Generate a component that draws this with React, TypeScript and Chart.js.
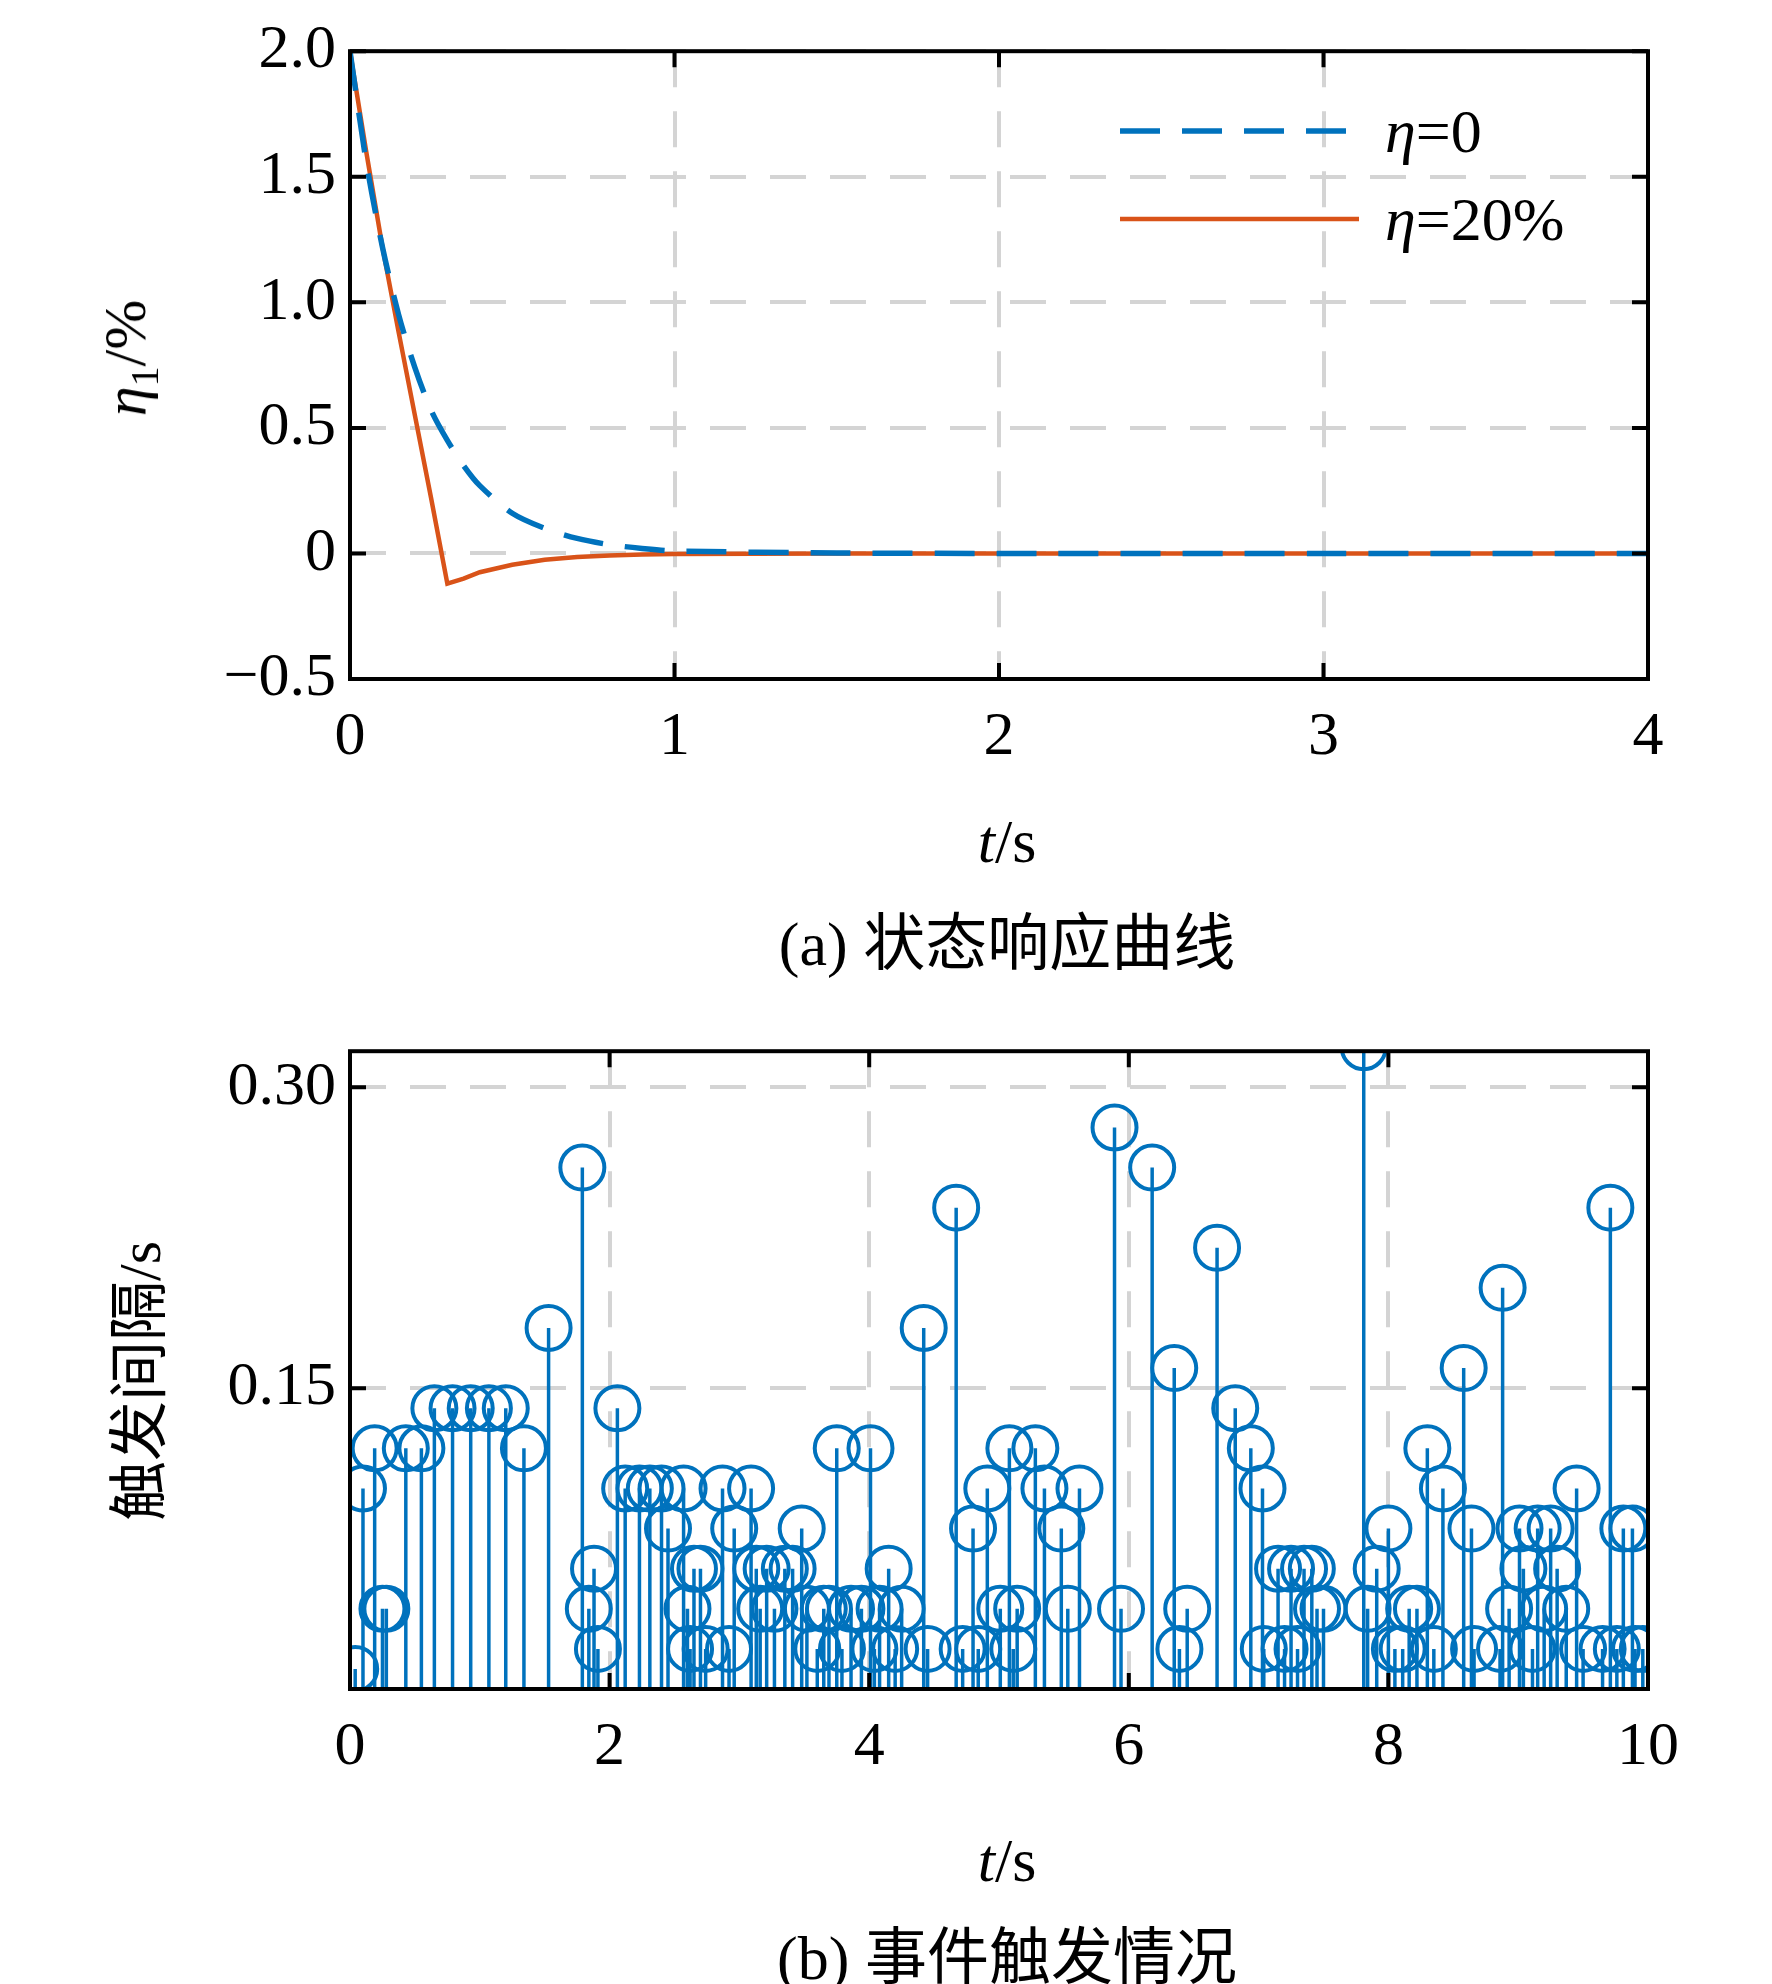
import React, { useEffect, useRef } from "react";
import { Chart, registerables } from "chart.js";
Chart.register(...registerables);

const tA = [0, 0.05, 0.1, 0.15, 0.2, 0.25, 0.3, 0.35, 0.4, 0.5, 0.6, 0.7, 0.8, 0.9, 1.0, 1.5, 2, 3, 4];
const eta0 = [2.0, 1.56, 1.22, 0.95, 0.74, 0.57, 0.45, 0.35, 0.27, 0.16, 0.1, 0.06, 0.035, 0.02, 0.01, 0.002, 0, 0, 0];
const tB = [0, 0.05, 0.1, 0.15, 0.2, 0.25, 0.3, 0.35, 0.4, 0.5, 0.6, 0.7, 0.8, 0.9, 1.0, 1.5, 2, 3, 4];
const eta20 = [2.0, 1.6, 1.22, 0.88, 0.55, 0.22, -0.12, -0.1, -0.075, -0.045, -0.025, -0.014, -0.008, -0.004, -0.002, 0, 0, 0, 0];

const evT = [0.04, 0.1, 0.19, 0.25, 0.28, 0.43, 0.55, 0.65, 0.79, 0.93, 1.07, 1.2, 1.34, 1.53, 1.79, 1.84, 1.88, 1.91, 2.06, 2.12, 2.23, 2.31, 2.4, 2.45, 2.57, 2.6, 2.62, 2.65, 2.7, 2.74, 2.87, 2.92, 2.96, 3.09, 3.13, 3.16, 3.21, 3.27, 3.35, 3.41, 3.48, 3.52, 3.6, 3.65, 3.69, 3.75, 3.79, 3.86, 3.94, 4.01, 4.04, 4.08, 4.15, 4.2, 4.25, 4.42, 4.45, 4.67, 4.72, 4.8, 4.84, 4.91, 5.01, 5.08, 5.11, 5.14, 5.28, 5.35, 5.48, 5.53, 5.62, 5.89, 5.94, 6.18, 6.35, 6.39, 6.45, 6.68, 6.82, 6.94, 7.03, 7.04, 7.15, 7.2, 7.25, 7.3, 7.35, 7.41, 7.45, 7.5, 7.81, 7.84, 7.91, 8.0, 8.05, 8.11, 8.16, 8.22, 8.3, 8.35, 8.42, 8.58, 8.64, 8.66, 8.86, 8.88, 8.93, 9.01, 9.04, 9.11, 9.15, 9.2, 9.25, 9.3, 9.37, 9.45, 9.5, 9.65, 9.71, 9.76, 9.81, 9.88, 9.9, 9.96];
const evV = [0.01, 0.10, 0.12, 0.04, 0.04, 0.12, 0.12, 0.14, 0.14, 0.14, 0.14, 0.14, 0.12, 0.18, 0.26, 0.04, 0.06, 0.02, 0.14, 0.10, 0.10, 0.10, 0.10, 0.08, 0.10, 0.04, 0.02, 0.06, 0.06, 0.02, 0.10, 0.02, 0.08, 0.10, 0.06, 0.04, 0.06, 0.04, 0.06, 0.06, 0.08, 0.04, 0.02, 0.04, 0.04, 0.12, 0.02, 0.04, 0.04, 0.12, 0.02, 0.04, 0.06, 0.02, 0.04, 0.18, 0.02, 0.24, 0.02, 0.08, 0.02, 0.10, 0.04, 0.12, 0.02, 0.04, 0.12, 0.10, 0.08, 0.04, 0.10, 0.28, 0.04, 0.26, 0.16, 0.02, 0.04, 0.22, 0.14, 0.12, 0.10, 0.02, 0.06, 0.02, 0.06, 0.02, 0.06, 0.06, 0.04, 0.04, 0.32, 0.04, 0.06, 0.08, 0.02, 0.02, 0.04, 0.04, 0.12, 0.02, 0.10, 0.16, 0.08, 0.02, 0.02, 0.20, 0.04, 0.08, 0.06, 0.02, 0.08, 0.04, 0.08, 0.06, 0.04, 0.10, 0.02, 0.02, 0.24, 0.02, 0.08, 0.08, 0.02, 0.02];

const FONT = "'Liberation Serif', 'Times New Roman', serif";
const BLUE = "#0072BD";
const RED = "#D95319";

const framePlugin = {
  id: "frame",
  afterDraw(chart: any) {
    const { ctx, chartArea: a, scales } = chart;
    ctx.save();
    ctx.strokeStyle = "#000";
    ctx.lineWidth = 4;
    const L = 16;
    ctx.beginPath();
    scales.x.ticks.forEach((t: any) => {
      const px = scales.x.getPixelForValue(t.value);
      ctx.moveTo(px, a.bottom); ctx.lineTo(px, a.bottom - L);
      ctx.moveTo(px, a.top); ctx.lineTo(px, a.top + L);
    });
    scales.y.ticks.forEach((t: any) => {
      const py = scales.y.getPixelForValue(t.value);
      ctx.moveTo(a.left, py); ctx.lineTo(a.left + L, py);
      ctx.moveTo(a.right, py); ctx.lineTo(a.right - L, py);
    });
    ctx.stroke();
    ctx.strokeRect(a.left, a.top, a.right - a.left, a.bottom - a.top);
    ctx.restore();
  },
};

const stemPlugin = {
  id: "stems",
  beforeDatasetsDraw(chart: any) {
    const { ctx, chartArea: a, scales } = chart;
    ctx.save();
    ctx.beginPath();
    ctx.rect(a.left, a.top, a.right - a.left, a.bottom - a.top);
    ctx.clip();
    ctx.strokeStyle = BLUE;
    ctx.lineWidth = 3.5;
    ctx.beginPath();
    evT.forEach((t, i) => {
      const px = scales.x.getPixelForValue(t);
      ctx.moveTo(px, scales.y.getPixelForValue(0));
      ctx.lineTo(px, scales.y.getPixelForValue(evV[i]));
    });
    ctx.stroke();
    ctx.restore();
  },
};

const tickFont = { family: FONT, size: 62 };
const gridCfg = { color: "#d4d4d4", lineWidth: 4, drawTicks: false };
const dash = [36, 24];

export default function App() {
  const r1 = useRef<HTMLCanvasElement>(null);
  const r2 = useRef<HTMLCanvasElement>(null);
  useEffect(() => {
    const c1 = new Chart(r1.current!, {
      type: "line",
      data: {
        datasets: [
          { data: tA.map((t, i) => ({ x: t, y: eta0[i] })), borderColor: BLUE, borderWidth: 5.5, borderDash: [40, 22], pointRadius: 0, tension: 0.3 },
          { data: tB.map((t, i) => ({ x: t, y: eta20[i] })), borderColor: RED, borderWidth: 4.5, pointRadius: 0, tension: 0 },
        ],
      },
      options: {
        animation: false, responsive: false, devicePixelRatio: 1,
        layout: { padding: { top: 26, right: 124, left: 0, bottom: 0 } },
        plugins: { legend: { display: false }, tooltip: { enabled: false } },
        scales: {
          x: {
            type: "linear", min: 0, max: 4,
            ticks: { stepSize: 1, font: tickFont, color: "#000", padding: 22 },
            grid: gridCfg, border: { display: false, dash },
            afterFit: (s: any) => { s.height = 121; },
          },
          y: {
            min: -0.5, max: 2,
            ticks: { stepSize: 0.5, font: tickFont, color: "#000", padding: 14,
              callback: (v: any) => v === 0 ? "0" : (v < 0 ? "\u2212" + Math.abs(v).toFixed(1) : Number(v).toFixed(1)) },
            grid: gridCfg, border: { display: false, dash },
            afterFit: (s: any) => { s.width = 350; },
          },
        },
      } as any,
      plugins: [framePlugin],
    });
    const c2 = new Chart(r2.current!, {
      type: "scatter",
      data: {
        datasets: [
          { data: evT.map((t, i) => ({ x: t, y: evV[i] })), borderColor: BLUE, backgroundColor: "rgba(0,0,0,0)", borderWidth: 4, pointRadius: 22, clip: 0 } as any,
        ],
      },
      options: {
        animation: false, responsive: false, devicePixelRatio: 1,
        layout: { padding: { top: 45, right: 124, left: 0, bottom: 0 } },
        plugins: { legend: { display: false }, tooltip: { enabled: false } },
        scales: {
          x: {
            type: "linear", min: 0, max: 10,
            ticks: { stepSize: 2, font: tickFont, color: "#000", padding: 22 },
            grid: gridCfg, border: { display: false, dash },
            afterFit: (s: any) => { s.height = 111; },
          },
          y: {
            min: 0, max: 0.318,
            afterBuildTicks: (s: any) => { s.ticks = [{ value: 0.15 }, { value: 0.3 }]; },
            ticks: { font: tickFont, color: "#000", padding: 14, callback: (v: any) => Number(v).toFixed(2) },
            grid: gridCfg, border: { display: false, dash },
            afterFit: (s: any) => { s.width = 350; },
          },
        },
      } as any,
      plugins: [stemPlugin, framePlugin],
    });
    return () => { c1.destroy(); c2.destroy(); };
  }, []);

  const txt: React.CSSProperties = { position: "absolute", fontFamily: FONT, color: "#000", whiteSpace: "nowrap", lineHeight: 1 };
  const cjk = "'Liberation Serif', 'Noto Sans CJK SC', serif";
  return (
    <div style={{ position: "absolute", left: 0, top: 0, width: 1772, height: 1984, background: "#fff" }}>
      <canvas ref={r1} width={1772} height={800} style={{ position: "absolute", left: 0, top: 0 }} />
      <canvas ref={r2} width={1772} height={800} style={{ position: "absolute", left: 0, top: 1000 }} />
      <svg width={1772} height={300} style={{ position: "absolute", left: 0, top: 0 }}>
        <line x1={1120} y1={131} x2={1359} y2={131} stroke={BLUE} strokeWidth={5.5} strokeDasharray="40 22" />
        <line x1={1120} y1={219} x2={1359} y2={219} stroke={RED} strokeWidth={4.5} />
      </svg>
      <div style={{ ...txt, left: 1385, top: 100, fontSize: 62 }}><i>η</i>=0</div>
      <div style={{ ...txt, left: 1385, top: 188, fontSize: 62 }}><i>η</i>=20%</div>
      <div style={{ ...txt, left: 130, top: 358, fontSize: 60, transform: "translate(-50%,-50%) rotate(-90deg)" }}><i>η</i><sub style={{ fontSize: 40 }}>1</sub>/%</div>
      <div style={{ ...txt, left: 140, top: 1381, fontSize: 60, fontFamily: cjk, transform: "translate(-50%,-50%) rotate(-90deg)" }}>触发间隔/s</div>
      <div style={{ ...txt, left: 1007, top: 841, fontSize: 62, transform: "translate(-50%,-50%)" }}><i>t</i>/s</div>
      <div style={{ ...txt, left: 1007, top: 1860, fontSize: 62, transform: "translate(-50%,-50%)" }}><i>t</i>/s</div>
      <div style={{ ...txt, left: 1007, top: 944, fontSize: 62, fontFamily: cjk, transform: "translate(-50%,-50%)" }}>(a) 状态响应曲线</div>
      <div style={{ ...txt, left: 1007, top: 1958, fontSize: 62, fontFamily: cjk, transform: "translate(-50%,-50%)" }}>(b) 事件触发情况</div>
    </div>
  );
}
